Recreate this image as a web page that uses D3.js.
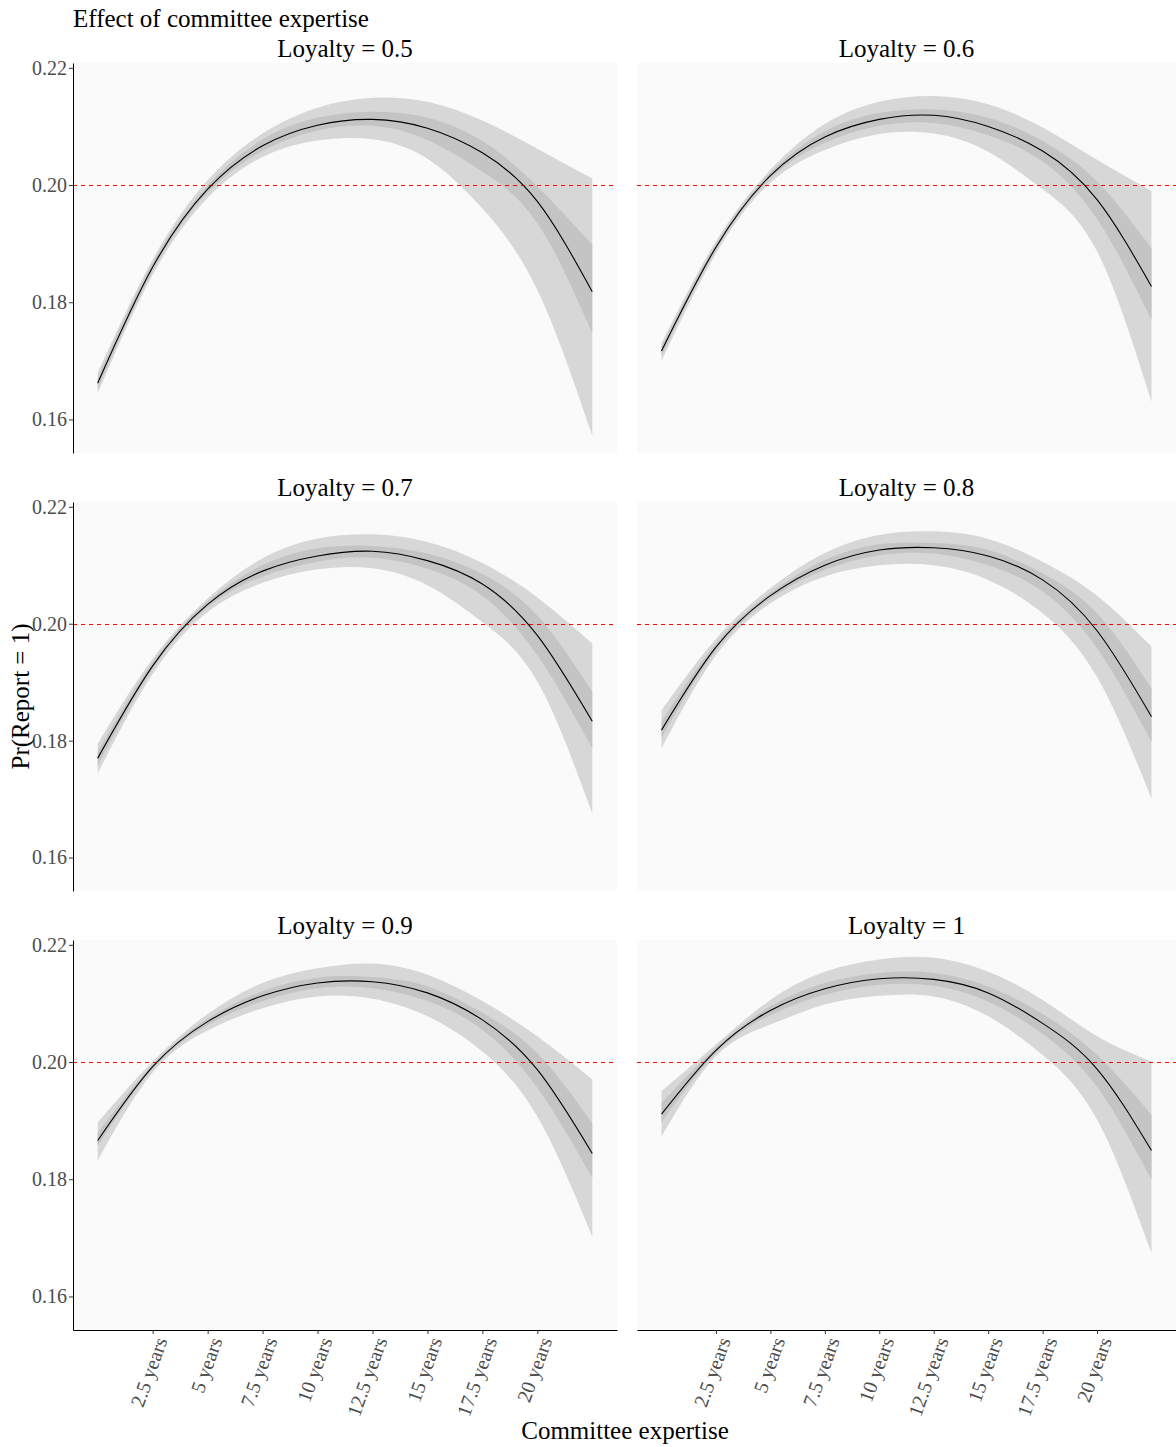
<!DOCTYPE html>
<html>
<head>
  <meta charset="utf-8">
  <title>Effect of committee expertise</title>
  <script src="https://d3js.org/d3.v7.min.js"></script>
  <style>
    body { margin: 0; background: #fff; }
    svg text { font-family: "Liberation Serif", "Times New Roman", serif; }
  </style>
</head>
<body>
  <svg id="chart" width="1176" height="1447"></svg>
  <script>
    // facet labels, x grid (years of expertise) and axis ticks
    const loyalty = ["0.5", "0.6", "0.7", "0.8", "0.9", "1"];
    const expertise = [0, 2.5, 5, 7.5, 10, 12.5, 15, 17.5, 20, 22.5];
    const xTicks = [2.5, 5, 7.5, 10, 12.5, 15, 17.5, 20];
    const xTickLabels = ["2.5 years", "5 years", "7.5 years", "10 years", "12.5 years", "15 years", "17.5 years", "20 years"];
    const yTicks = [0.16, 0.18, 0.20, 0.22];
    const threshold = 0.2;

    // predicted Pr(Report = 1), one row per loyalty level
    const fit = [
      [0.1662, 0.1860, 0.1993, 0.2067, 0.2102, 0.2112, 0.2097, 0.2055, 0.1972, 0.1818],
      [0.1717, 0.1894, 0.2016, 0.2082, 0.2112, 0.2119, 0.2100, 0.2058, 0.1975, 0.1827],
      [0.1770, 0.1928, 0.2033, 0.2090, 0.2116, 0.2124, 0.2108, 0.2068, 0.1980, 0.1833],
      [0.1818, 0.1960, 0.2048, 0.2100, 0.2126, 0.2130, 0.2116, 0.2075, 0.1988, 0.1841],
      [0.1866, 0.1992, 0.2069, 0.2113, 0.2135, 0.2137, 0.2118, 0.2072, 0.1987, 0.1844],
      [0.1911, 0.2020, 0.2088, 0.2125, 0.2142, 0.2141, 0.2118, 0.2066, 0.1988, 0.1849]
    ];
    // wide interval
    const outerLow = [
      [0.1645, 0.1847, 0.1978, 0.2048, 0.2076, 0.2078, 0.2045, 0.1960, 0.1821, 0.1573],
      [0.1700, 0.1883, 0.2004, 0.2060, 0.2087, 0.2088, 0.2057, 0.1993, 0.1887, 0.1630],
      [0.1744, 0.1914, 0.2020, 0.2070, 0.2093, 0.2095, 0.2066, 0.2003, 0.1901, 0.1675],
      [0.1787, 0.1946, 0.2035, 0.2081, 0.2100, 0.2100, 0.2075, 0.2018, 0.1909, 0.1701],
      [0.1832, 0.1982, 0.2054, 0.2092, 0.2112, 0.2108, 0.2078, 0.2018, 0.1907, 0.1702],
      [0.1873, 0.2010, 0.2064, 0.2098, 0.2113, 0.2112, 0.2078, 0.2012, 0.1902, 0.1674]
    ];
    const outerHigh = [
      [0.1680, 0.1873, 0.2008, 0.2088, 0.2132, 0.2149, 0.2142, 0.2110, 0.2062, 0.2011],
      [0.1730, 0.1904, 0.2026, 0.2104, 0.2142, 0.2152, 0.2138, 0.2098, 0.2043, 0.1990],
      [0.1795, 0.1940, 0.2043, 0.2112, 0.2146, 0.2153, 0.2140, 0.2104, 0.2045, 0.1966],
      [0.1852, 0.1974, 0.2061, 0.2121, 0.2152, 0.2158, 0.2145, 0.2106, 0.2048, 0.1961],
      [0.1897, 0.2001, 0.2082, 0.2135, 0.2160, 0.2168, 0.2149, 0.2104, 0.2044, 0.1970],
      [0.1950, 0.2030, 0.2106, 0.2154, 0.2175, 0.2178, 0.2154, 0.2106, 0.2044, 0.2001]
    ];
    // narrow interval
    const innerLow = [
      [0.1653, 0.1854, 0.1987, 0.2058, 0.2093, 0.2101, 0.2077, 0.2023, 0.1935, 0.1747],
      [0.1709, 0.1889, 0.2011, 0.2072, 0.2101, 0.2106, 0.2085, 0.2040, 0.1942, 0.1770],
      [0.1757, 0.1922, 0.2028, 0.2081, 0.2106, 0.2113, 0.2094, 0.2048, 0.1946, 0.1787],
      [0.1805, 0.1954, 0.2043, 0.2092, 0.2117, 0.2120, 0.2100, 0.2055, 0.1958, 0.1798],
      [0.1857, 0.1988, 0.2063, 0.2104, 0.2126, 0.2126, 0.2104, 0.2055, 0.1956, 0.1802],
      [0.1897, 0.2015, 0.2080, 0.2115, 0.2132, 0.2130, 0.2103, 0.2048, 0.1958, 0.1799]
    ];
    const innerHigh = [
      [0.1671, 0.1867, 0.1999, 0.2078, 0.2115, 0.2125, 0.2115, 0.2075, 0.1998, 0.1898],
      [0.1724, 0.1899, 0.2021, 0.2092, 0.2123, 0.2129, 0.2115, 0.2075, 0.2006, 0.1892],
      [0.1781, 0.1934, 0.2038, 0.2100, 0.2129, 0.2133, 0.2120, 0.2085, 0.2014, 0.1884],
      [0.1832, 0.1966, 0.2053, 0.2109, 0.2136, 0.2138, 0.2126, 0.2086, 0.2018, 0.1889],
      [0.1879, 0.1996, 0.2074, 0.2121, 0.2144, 0.2145, 0.2129, 0.2084, 0.2015, 0.1896],
      [0.1930, 0.2025, 0.2095, 0.2135, 0.2152, 0.2152, 0.2129, 0.2082, 0.2012, 0.1910]
    ];

    const svg = d3.select('#chart');
    const cols = [{ x0: 73, x1: 617 }, { x0: 637, x1: 1176 }];
    const rows = [{ y0: 63, y1: 453 }, { y0: 502, y1: 891 }, { y0: 940, y1: 1330 }];

    // ggplot style 5% expansion, shared scales over all facets
    const xExt = d3.extent(expertise);
    const xPad = (xExt[1] - xExt[0]) * 0.05;
    const yMin = d3.min(outerLow, r => d3.min(r));
    const yMax = d3.max(outerHigh, r => d3.max(r));
    const yPad = (yMax - yMin) * 0.05;
    const smooth = d3.curveNatural;

    loyalty.forEach(function (lab, i) {
      const c = cols[i % 2], r = rows[Math.floor(i / 2)];
      const x = d3.scaleLinear().domain([xExt[0] - xPad, xExt[1] + xPad]).range([c.x0, c.x1]);
      const y = d3.scaleLinear().domain([yMin - yPad, yMax + yPad]).range([r.y1, r.y0]);
      const g = svg.append('g');

      g.append('rect')
        .attr('x', c.x0).attr('y', r.y0)
        .attr('width', c.x1 - c.x0).attr('height', r.y1 - r.y0)
        .attr('fill', '#FAFAFA');

      const pts = expertise.map((e, j) => ({
        e: e, fit: fit[i][j],
        ol: outerLow[i][j], oh: outerHigh[i][j],
        il: innerLow[i][j], ih: innerHigh[i][j]
      }));

      g.append('path').datum(pts)
        .attr('d', d3.area().x(d => x(d.e)).y0(d => y(d.ol)).y1(d => y(d.oh)).curve(smooth))
        .attr('fill', '#D7D7D7');
      g.append('path').datum(pts)
        .attr('d', d3.area().x(d => x(d.e)).y0(d => y(d.il)).y1(d => y(d.ih)).curve(smooth))
        .attr('fill', '#C4C4C4');

      const yRef = Math.round(y(threshold)) + 0.5;
      g.append('line')
        .attr('x1', c.x0).attr('x2', c.x1)
        .attr('y1', yRef).attr('y2', yRef)
        .attr('stroke', '#FF0000').attr('stroke-width', 1)
        .attr('stroke-dasharray', '4,4');

      g.append('path').datum(pts)
        .attr('d', d3.line().x(d => x(d.e)).y(d => y(d.fit)).curve(smooth))
        .attr('fill', 'none').attr('stroke', '#000').attr('stroke-width', 1.1);

      g.append('text')
        .attr('x', (c.x0 + c.x1) / 2).attr('y', r.y0 - 6)
        .attr('text-anchor', 'middle')
        .style('font-size', '25px')
        .text('Loyalty = ' + lab);

      if (i % 2 === 0) {
        const ax = g.append('g')
          .attr('transform', 'translate(' + c.x0 + ',0)')
          .call(d3.axisLeft(y).tickValues(yTicks).tickFormat(d3.format('.2f')).tickSize(4).tickSizeOuter(0).tickPadding(2));
        ax.select('.domain').attr('stroke', '#000');
        ax.selectAll('.tick line').attr('stroke', '#333');
        ax.selectAll('text').style('font-size', '20px').attr('fill', '#4D4D4D').style('font-family', '"Liberation Serif", serif');
      }

      if (Math.floor(i / 2) === 2) {
        const bx = g.append('g')
          .attr('transform', 'translate(0,' + r.y1 + ')')
          .call(d3.axisBottom(x).tickValues(xTicks).tickFormat((d, k) => xTickLabels[k]).tickSize(4).tickSizeOuter(0));
        bx.select('.domain').attr('stroke', '#000');
        bx.selectAll('.tick line').attr('stroke', '#333');
        bx.selectAll('text')
          .attr('x', 0).attr('y', 0).attr('dy', '0.35em')
          .attr('transform', 'translate(8,8) rotate(-70)')
          .style('text-anchor', 'end')
          .style('font-size', '20px')
          .style('font-family', '"Liberation Serif", serif')
          .attr('fill', '#4D4D4D');
      }
    });

    svg.append('text')
      .attr('x', 73).attr('y', 27)
      .style('font-size', '25px')
      .text('Effect of committee expertise');

    svg.append('text')
      .attr('transform', 'translate(29,696.5) rotate(-90)')
      .attr('text-anchor', 'middle')
      .style('font-size', '25px')
      .text('Pr(Report = 1)');

    svg.append('text')
      .attr('x', 625).attr('y', 1439)
      .attr('text-anchor', 'middle')
      .style('font-size', '25px')
      .text('Committee expertise');
  </script>
</body>
</html>
